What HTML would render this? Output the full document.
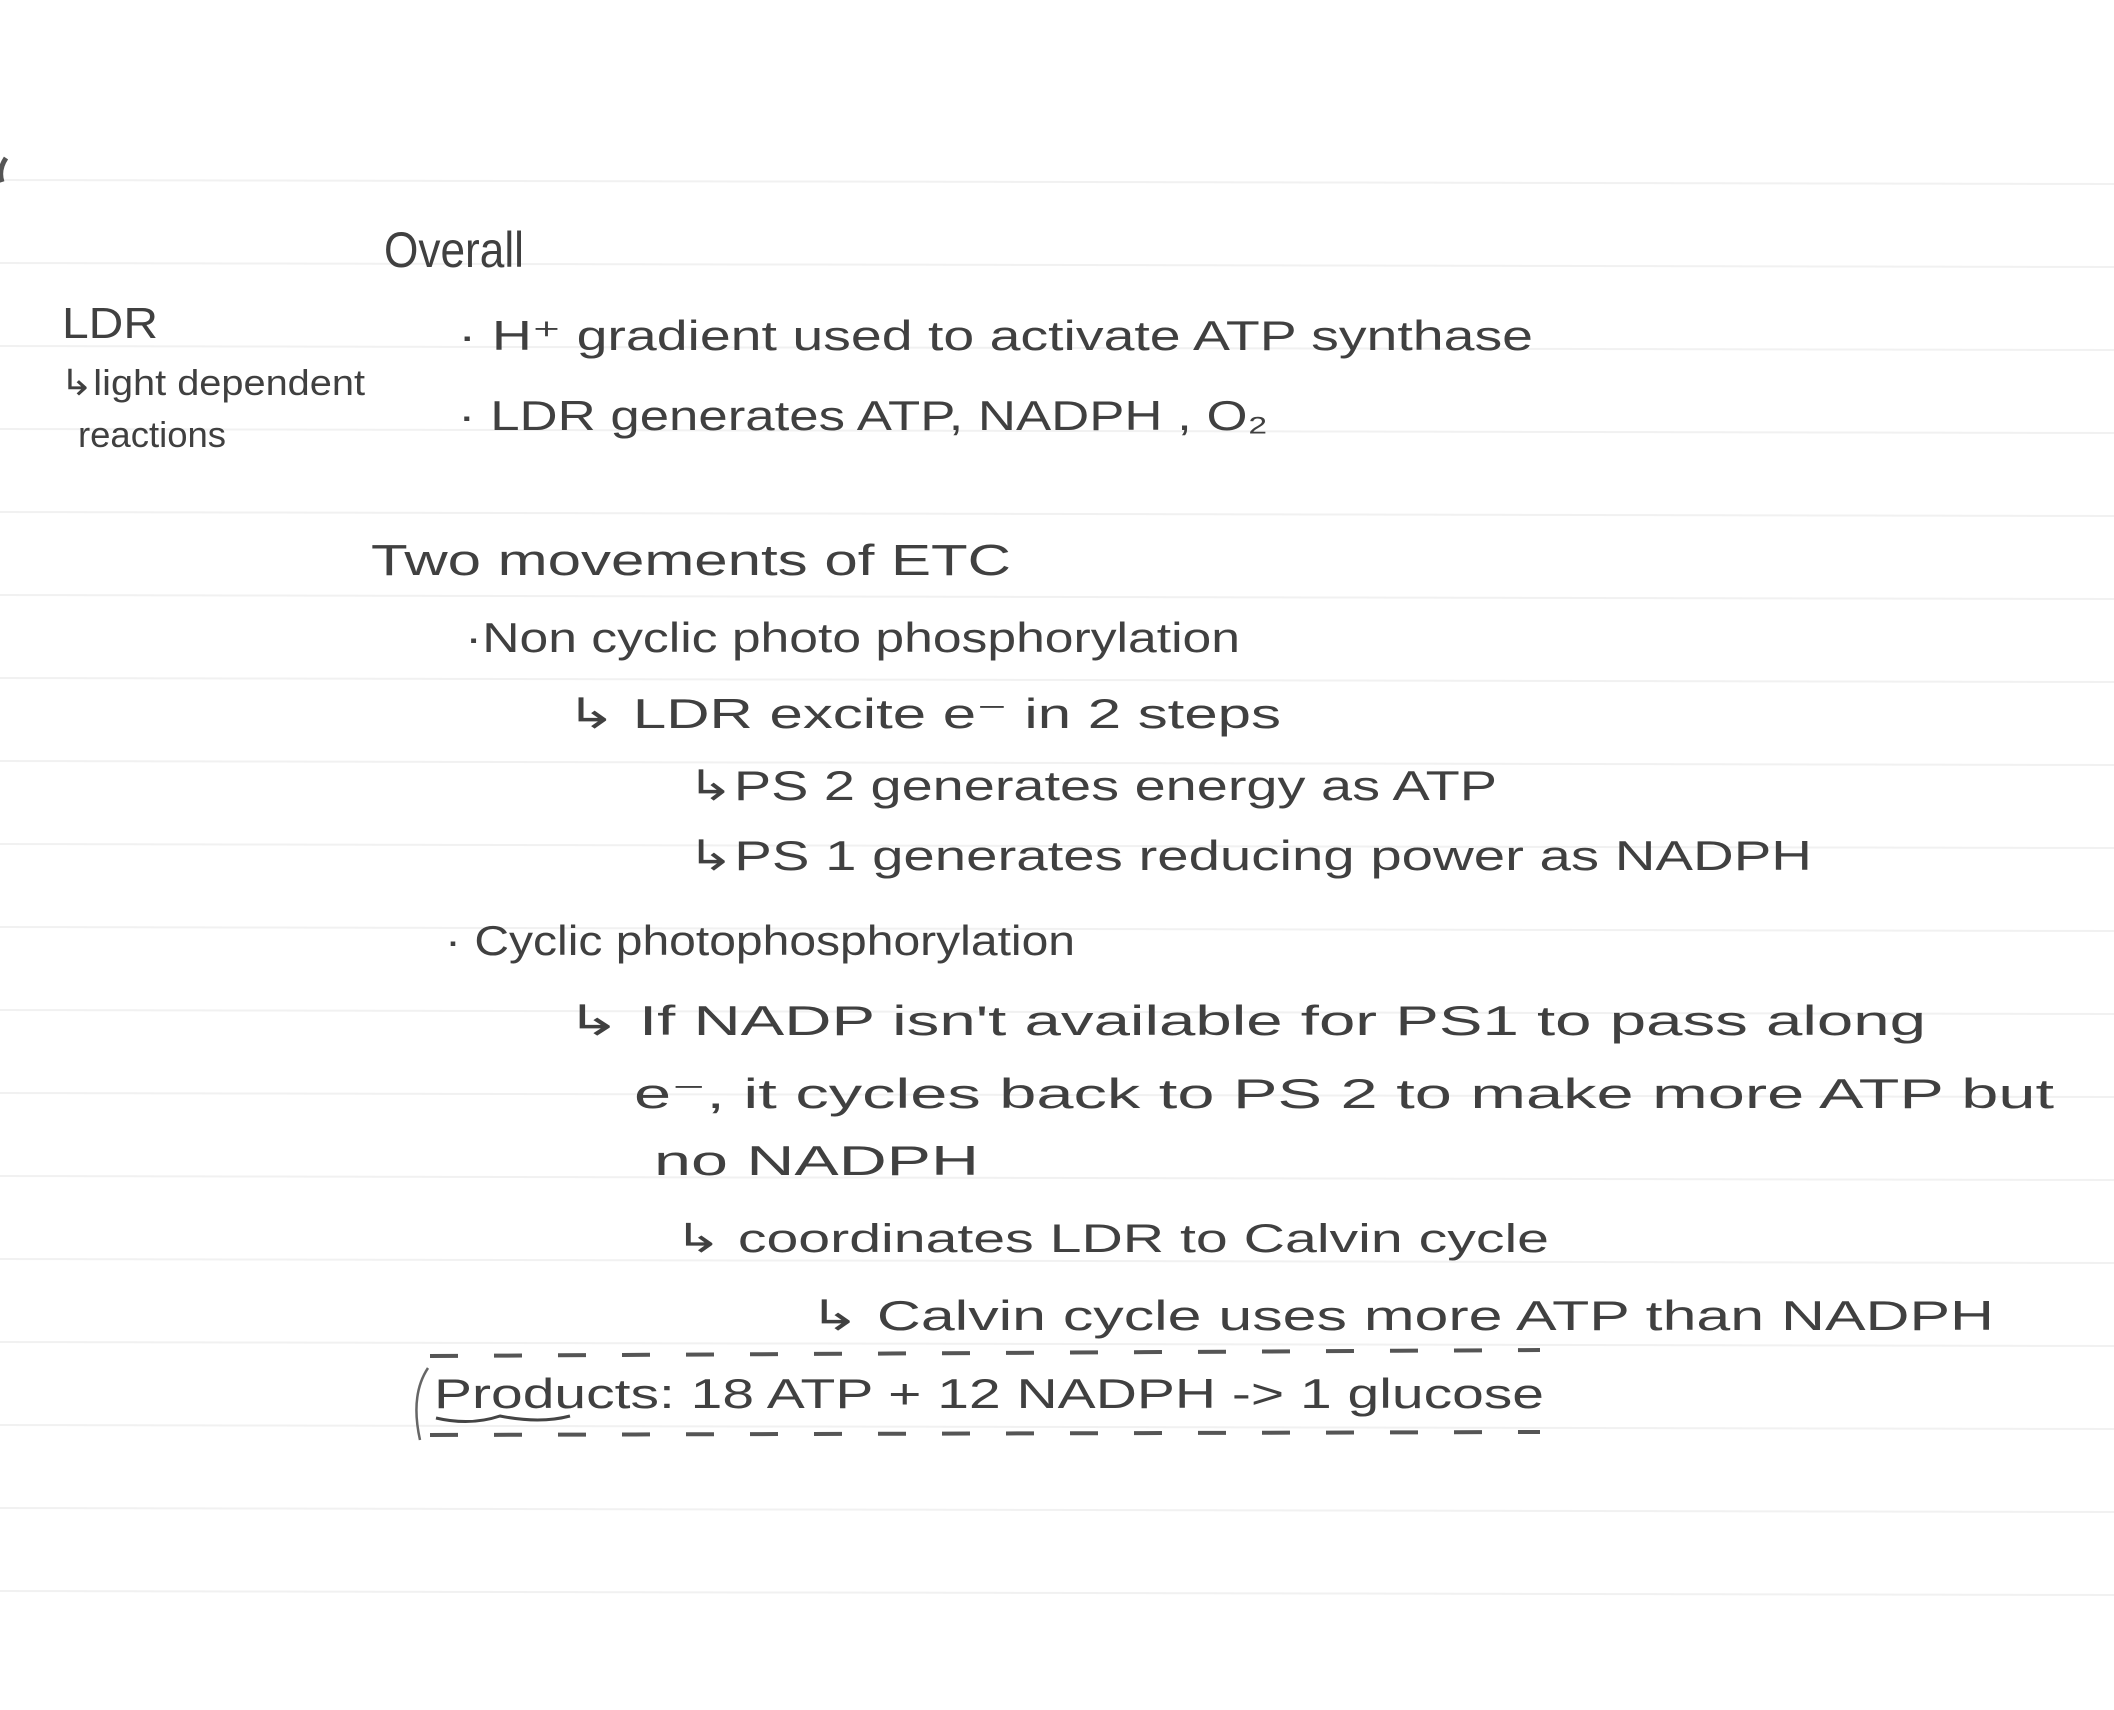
<!DOCTYPE html>
<html><head><meta charset="utf-8"><style>
html,body{margin:0;padding:0;background:#fff;width:2114px;height:1710px;overflow:hidden}
svg{display:block}
text{font-family:"Liberation Sans",sans-serif;fill:#404040;}
</style></head><body>
<svg width="2114" height="1710" viewBox="0 0 2114 1710" xmlns="http://www.w3.org/2000/svg">
<g stroke="#f1f1f1" stroke-width="2">
<line x1="0" y1="180" x2="2114" y2="184"/>
<line x1="0" y1="263" x2="2114" y2="267"/>
<line x1="0" y1="346" x2="2114" y2="350"/>
<line x1="0" y1="429" x2="2114" y2="433"/>
<line x1="0" y1="512" x2="2114" y2="516"/>
<line x1="0" y1="595" x2="2114" y2="599"/>
<line x1="0" y1="678" x2="2114" y2="682"/>
<line x1="0" y1="761" x2="2114" y2="765"/>
<line x1="0" y1="844" x2="2114" y2="848"/>
<line x1="0" y1="927" x2="2114" y2="931"/>
<line x1="0" y1="1010" x2="2114" y2="1014"/>
<line x1="0" y1="1093" x2="2114" y2="1097"/>
<line x1="0" y1="1176" x2="2114" y2="1180"/>
<line x1="0" y1="1259" x2="2114" y2="1263"/>
<line x1="0" y1="1342" x2="2114" y2="1346"/>
<line x1="0" y1="1425" x2="2114" y2="1429"/>
<line x1="0" y1="1508" x2="2114" y2="1512"/>
<line x1="0" y1="1591" x2="2114" y2="1595"/>
</g>
<path d="M6 158 Q-2 170 2 182" stroke="#555" stroke-width="5" fill="none"/>
<text x="384" y="267" font-size="50" textLength="140" lengthAdjust="spacingAndGlyphs">Overall</text>
<text x="62" y="338" font-size="44" textLength="96" lengthAdjust="spacingAndGlyphs">LDR</text>
<text x="60" y="395" font-size="36" textLength="305" lengthAdjust="spacingAndGlyphs">↳light dependent</text>
<text x="78" y="447" font-size="36" textLength="148" lengthAdjust="spacingAndGlyphs">reactions</text>
<text x="458" y="350" font-size="42" textLength="1075" lengthAdjust="spacingAndGlyphs">·  H⁺  gradient  used  to  activate  ATP  synthase</text>
<text x="458" y="430" font-size="42" textLength="810" lengthAdjust="spacingAndGlyphs">·  LDR  generates  ATP,  NADPH ,  O₂</text>
<text x="371" y="575" font-size="44" textLength="640" lengthAdjust="spacingAndGlyphs">Two   movements  of  ETC</text>
<text x="465" y="652" font-size="42" textLength="775" lengthAdjust="spacingAndGlyphs">·Non cyclic   photo phosphorylation</text>
<text x="566" y="728" font-size="42" textLength="715" lengthAdjust="spacingAndGlyphs">↳  LDR  excite  e⁻  in  2  steps</text>
<text x="687" y="800" font-size="42" textLength="810" lengthAdjust="spacingAndGlyphs">↳PS 2   generates  energy  as  ATP</text>
<text x="687" y="870" font-size="42" textLength="1125" lengthAdjust="spacingAndGlyphs">↳PS 1   generates  reducing  power  as  NADPH</text>
<text x="445" y="955" font-size="42" textLength="630" lengthAdjust="spacingAndGlyphs">· Cyclic  photophosphorylation</text>
<text x="566" y="1035" font-size="42" textLength="1360" lengthAdjust="spacingAndGlyphs">↳  If   NADP  isn't   available  for  PS1  to  pass   along</text>
<text x="634" y="1108" font-size="42" textLength="1420" lengthAdjust="spacingAndGlyphs">e⁻,  it  cycles   back  to  PS 2   to  make   more  ATP  but</text>
<text x="654" y="1175" font-size="42" textLength="325" lengthAdjust="spacingAndGlyphs">no    NADPH</text>
<text x="674" y="1252" font-size="40" textLength="875" lengthAdjust="spacingAndGlyphs">↳  coordinates   LDR   to   Calvin  cycle</text>
<text x="809" y="1330" font-size="42" textLength="1185" lengthAdjust="spacingAndGlyphs">↳ Calvin   cycle   uses   more   ATP  than  NADPH</text>
<text x="434" y="1408" font-size="42" textLength="1110" lengthAdjust="spacingAndGlyphs">Products:   18 ATP   +   12  NADPH   -&gt;  1  glucose</text>
<path d="M436 1418 Q470 1426 500 1416 Q540 1424 570 1416" stroke="#444" stroke-width="3" fill="none"/>
<path d="M428 1368 Q410 1395 420 1440" stroke="#666" stroke-width="2.5" fill="none"/>
<g stroke="#555" stroke-width="4" stroke-dasharray="28 36" fill="none">
<path d="M430 1356 L1540 1350"/>
<path d="M430 1435 L1540 1432"/>
</g>
</svg>
</body></html>
